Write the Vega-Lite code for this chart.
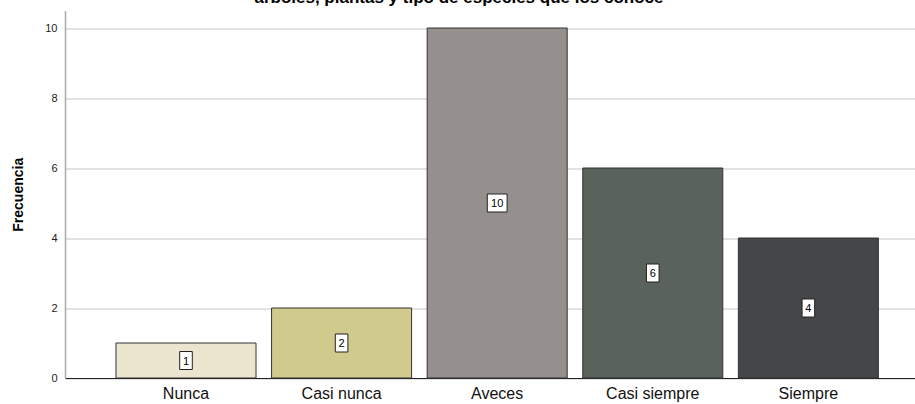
{
  "$schema": "https://vega.github.io/schema/vega-lite/v6.json",
  "autosize": {"type": "none"},
  "width": 850,
  "height": 367.5,
  "padding": {"left": 65, "top": 10.5, "right": 0, "bottom": 26},
  "background": "white",
  "title": {
    "text": "árboles, plantas y tipo de especies que los conoce",
    "font": "Liberation Sans",
    "fontSize": 17,
    "fontWeight": "bold",
    "color": "#000000",
    "anchor": "middle",
    "baseline": "alphabetic",
    "offset": 0,
    "dx": -31,
    "dy": 9
  },
  "data": {
    "values": [
      {"categoria": "Nunca", "frecuencia": 1},
      {"categoria": "Casi nunca", "frecuencia": 2},
      {"categoria": "Aveces", "frecuencia": 10},
      {"categoria": "Casi siempre", "frecuencia": 6},
      {"categoria": "Siempre", "frecuencia": 4}
    ]
  },
  "config": {
    "view": {"stroke": null},
    "font": "Liberation Sans"
  },
  "encoding": {
    "x": {
      "field": "categoria",
      "type": "nominal",
      "sort": ["Nunca", "Casi nunca", "Aveces", "Casi siempre", "Siempre"],
      "scale": {"paddingInner": 0.1, "paddingOuter": 0.2815, "align": 0.582},
      "axis": {
        "title": null,
        "labelAngle": 0,
        "labelFont": "Liberation Sans",
        "labelFontSize": 16,
        "labelColor": "#111111",
        "labelPadding": 7,
        "ticks": false,
        "domainColor": "#222222",
        "domainWidth": 1.2,
        "grid": false
      }
    }
  },
  "layer": [
    {
      "mark": {"type": "bar", "stroke": "#333333", "strokeWidth": 1},
      "encoding": {
        "y": {
          "field": "frecuencia",
          "type": "quantitative",
          "scale": {"domain": [0, 10.5], "nice": false},
          "axis": {
            "title": "Frecuencia",
            "titleFont": "Liberation Sans",
            "titleFontSize": 14,
            "titleFontWeight": "bold",
            "titleColor": "#000000",
            "titlePadding": 19,
            "values": [0, 2, 4, 6, 8, 10],
            "labelFont": "Liberation Sans",
            "labelFontSize": 11,
            "labelColor": "#222222",
            "labelPadding": 8,
            "ticks": false,
            "domainColor": "#aaaaaa",
            "domainWidth": 1.5,
            "gridColor": "#d9d9d9",
            "gridWidth": 1.5
          }
        },
        "color": {
          "field": "categoria",
          "type": "nominal",
          "scale": {
            "domain": ["Nunca", "Casi nunca", "Aveces", "Casi siempre", "Siempre"],
            "range": ["#ebe5d0", "#d1ca8d", "#958f8d", "#5a625c", "#454648"]
          },
          "legend": null
        }
      }
    },
    {
      "mark": {"type": "point", "filled": true, "fill": "white", "stroke": "#222222", "strokeWidth": 1, "opacity": 1},
      "encoding": {
        "y": {
          "field": "frecuencia",
          "type": "quantitative",
          "scale": {"domain": [0, 21], "nice": false},
          "axis": null
        },
        "shape": {
          "condition": {"test": "datum.frecuencia >= 10", "value": "M-1.1,-1L1.1,-1L1.1,1L-1.1,1Z"},
          "value": "M-0.7,-1L0.7,-1L0.7,1L-0.7,1Z"
        },
        "size": {"value": 324}
      }
    },
    {
      "mark": {"type": "text", "font": "Liberation Sans", "fontSize": 11, "color": "#000000", "baseline": "middle", "align": "center", "dy": 1},
      "encoding": {
        "y": {
          "field": "frecuencia",
          "type": "quantitative",
          "scale": {"domain": [0, 21], "nice": false},
          "axis": null
        },
        "text": {"field": "frecuencia", "type": "quantitative"}
      }
    }
  ],
  "resolve": {"scale": {"y": "independent"}}
}
